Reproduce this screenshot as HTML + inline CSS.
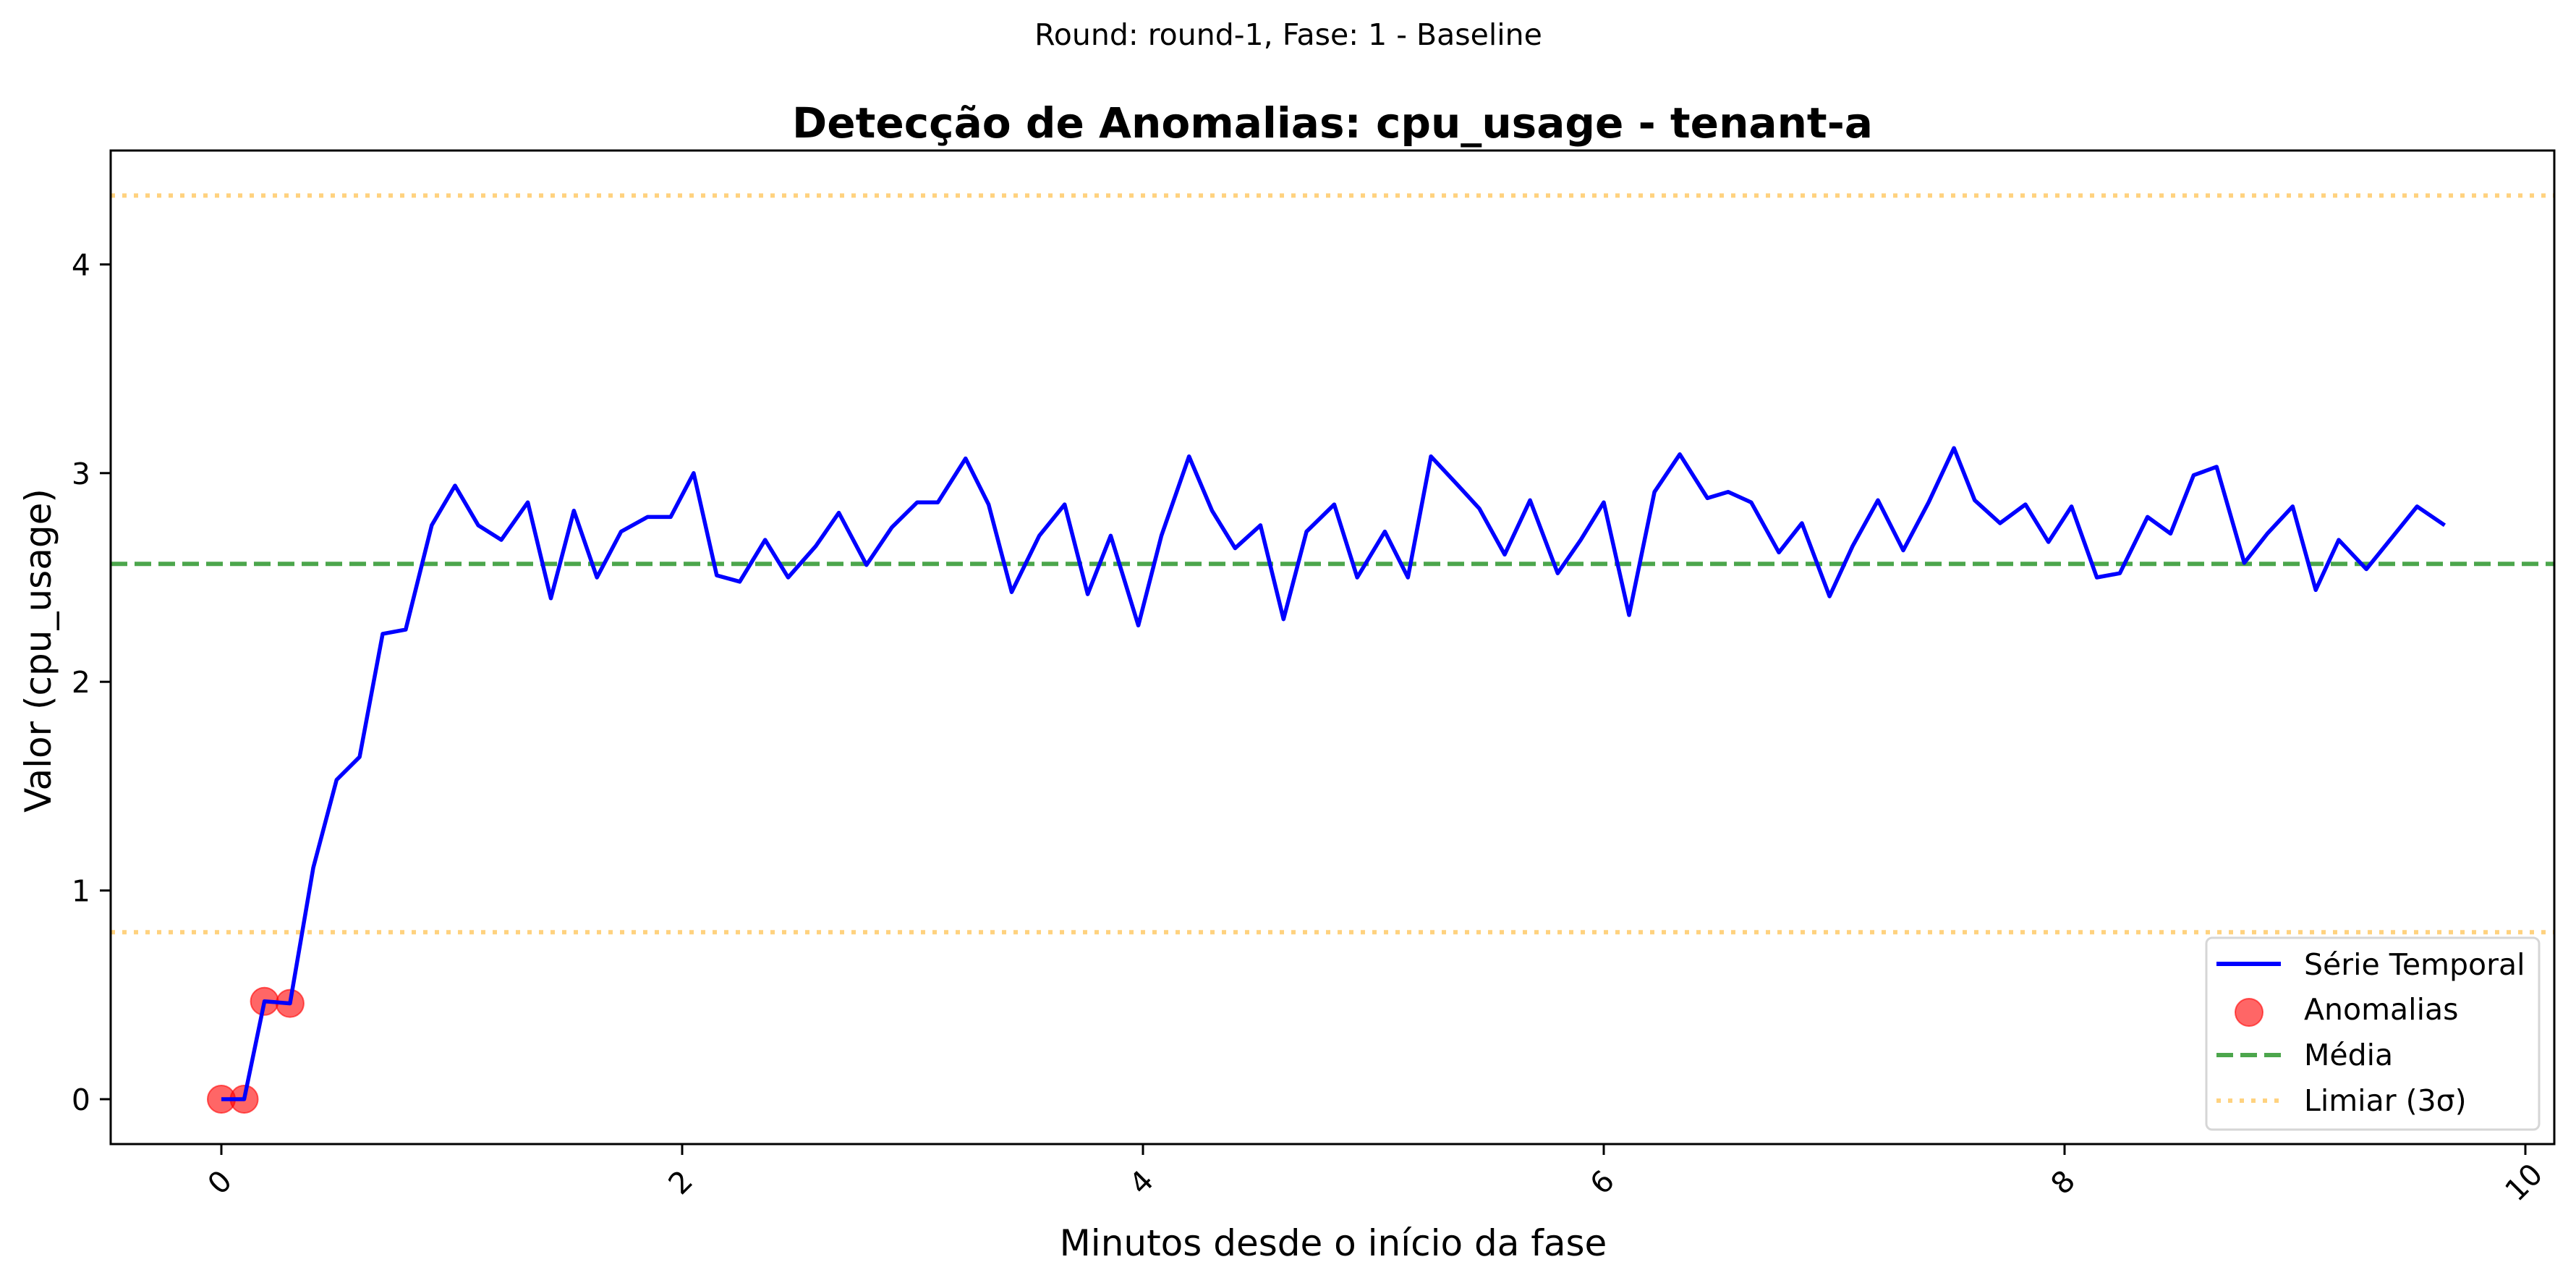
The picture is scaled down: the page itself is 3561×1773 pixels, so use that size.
<!DOCTYPE html>
<html><head><meta charset="utf-8">
<style>
html,body{margin:0;padding:0;background:#fff;}
svg{display:block;}
text{font-family:"DejaVu Sans","Liberation Sans",sans-serif;fill:#000;}
</style></head>
<body>
<svg id="chart" width="3561" height="1773" viewBox="0 0 3561 1773" xmlns="http://www.w3.org/2000/svg">
<rect x="0" y="0" width="3561" height="1773" fill="#fff"/>
<text x="1781" y="62" font-size="41" text-anchor="middle">Round: round-1, Fase: 1 - Baseline</text>
<text x="1842" y="190" font-size="58" font-weight="bold" text-anchor="middle" textLength="1494" lengthAdjust="spacingAndGlyphs">Detecção de Anomalias: cpu_usage - tenant-a</text>
<text x="1843" y="1735" font-size="50" text-anchor="middle">Minutos desde o início da fase</text>
<text transform="translate(70,899) rotate(-90)" font-size="50" text-anchor="middle">Valor (cpu_usage)</text>
<g id="plot"></g>
<g id="axes"></g>
<g id="legend">
  <rect x="3050" y="1296" width="460" height="265" rx="8" fill="#fff" fill-opacity="0.8" stroke="#d6d6d6" stroke-width="3"/>
  <line x1="3064" y1="1332" x2="3153" y2="1332" stroke="#0000ff" stroke-width="6"/>
  <text x="3185" y="1347" font-size="41">Série Temporal</text>
  <circle cx="3109" cy="1399" r="19" fill="#ff0000" fill-opacity="0.6" stroke="#ff0000" stroke-opacity="0.6" stroke-width="2"/>
  <text x="3185" y="1409" font-size="41">Anomalias</text>
  <line x1="3064" y1="1458" x2="3153" y2="1458" stroke="#008000" stroke-opacity="0.7" stroke-width="6" stroke-dasharray="23,10"/>
  <text x="3185" y="1472" font-size="41">Média</text>
  <line x1="3064" y1="1521" x2="3153" y2="1521" stroke="#ffa500" stroke-opacity="0.5" stroke-width="6" stroke-dasharray="6,10"/>
  <text x="3185" y="1535" font-size="41">Limiar (3σ)</text>
</g>
</svg>
<script>
const xMinutes = [0,0.099,0.187,0.298,0.399,0.50,0.60,0.70,0.80,0.913,1.014,1.115,1.215,1.33,1.43,1.53,1.63,1.735,1.85,1.95,2.05,2.15,2.25,2.36,2.46,2.58,2.68,2.80,2.91,3.02,3.11,3.23,3.33,3.43,3.55,3.66,3.76,3.86,3.98,4.08,4.20,4.30,4.40,4.51,4.61,4.71,4.83,4.93,5.05,5.15,5.25,5.36,5.46,5.57,5.68,5.80,5.90,6.00,6.11,6.22,6.33,6.45,6.54,6.64,6.76,6.86,6.98,7.08,7.19,7.30,7.41,7.52,7.61,7.72,7.83,7.93,8.03,8.14,8.24,8.36,8.46,8.56,8.66,8.78,8.88,8.99,9.09,9.19,9.31,9.42,9.53,9.65];
const cpuValues = [0,0,0.469,0.459,1.11,1.53,1.64,2.23,2.25,2.75,2.94,2.75,2.68,2.86,2.40,2.82,2.50,2.72,2.79,2.79,3.00,2.51,2.48,2.68,2.50,2.65,2.81,2.56,2.74,2.86,2.86,3.07,2.85,2.43,2.70,2.85,2.42,2.70,2.27,2.70,3.08,2.82,2.64,2.75,2.30,2.72,2.85,2.50,2.72,2.50,3.08,2.95,2.83,2.61,2.87,2.52,2.68,2.86,2.32,2.91,3.09,2.88,2.91,2.86,2.62,2.76,2.41,2.65,2.87,2.63,2.86,3.12,2.87,2.76,2.85,2.67,2.84,2.50,2.52,2.79,2.71,2.99,3.03,2.57,2.71,2.84,2.44,2.68,2.54,2.69,2.84,2.75];
const anomalyIdx = [0,1,2,3];
const meanValue = [2.565];
const thresholdValues = [0.80,4.33];
const xTicks = [0,2,4,6,8,10];
const yTicks = [0,1,2,3,4];

const L=153,R=3531,T=208,B=1581;
const X0=306,XU=318.5,Y0=1519,YU=288.4;
function sx(v){return X0+v*XU;}
function sy(v){return Y0-v*YU;}
const NS='http://www.w3.org/2000/svg';
const plot=document.getElementById('plot');
const axes=document.getElementById('axes');
function mk(tag,attrs,parent){const e=document.createElementNS(NS,tag);for(const k in attrs)e.setAttribute(k,attrs[k]);parent.appendChild(e);return e;}

thresholdValues.forEach((v,i)=>{
  const l=mk('line',{x1:L,x2:R,y1:sy(v),y2:sy(v),stroke:'#ffa500','stroke-opacity':0.5,'stroke-width':6,'stroke-dasharray':'6,10'},plot);
  
  
});
const ml=mk('line',{x1:L,x2:R,y1:sy(meanValue[0]),y2:sy(meanValue[0]),stroke:'#008000','stroke-opacity':0.7,'stroke-width':6,'stroke-dasharray':'23,10'},plot);


anomalyIdx.forEach(i=>{
  const c=mk('circle',{cx:sx(xMinutes[i]),cy:sy(cpuValues[i]),r:19,fill:'#ff0000','fill-opacity':0.6,stroke:'#ff0000','stroke-opacity':0.6,'stroke-width':2},plot);
  
  
});
const pts=xMinutes.map((x,i)=>sx(x).toFixed(1)+','+sy(cpuValues[i]).toFixed(1)).join(' ');
const pl=mk('polyline',{points:pts,fill:'none',stroke:'#0000ff','stroke-width':5.5,'stroke-linejoin':'round'},plot);


const fr=mk('rect',{x:L,y:T,width:R-L,height:B-T,fill:'none',stroke:'#000','stroke-width':3},axes);


xTicks.forEach(v=>{
  const x=sx(v);
  const t=mk('line',{x1:x,x2:x,y1:B,y2:B+15,stroke:'#000','stroke-width':3},axes);
  
  
  const lb=mk('text',{transform:'translate('+x+','+(B+55)+') rotate(-45)','font-size':41,'text-anchor':'middle','dominant-baseline':'middle'},axes);
  lb.textContent=String(v);
  
  
});
yTicks.forEach(v=>{
  const y=sy(v);
  const t=mk('line',{x1:L-15,x2:L,y1:y,y2:y,stroke:'#000','stroke-width':3},axes);
  
  
  const lb=mk('text',{x:L-28,y:y+15,'font-size':41,'text-anchor':'end'},axes);
  lb.textContent=String(v);
  
  
});
</script>
</body></html>
